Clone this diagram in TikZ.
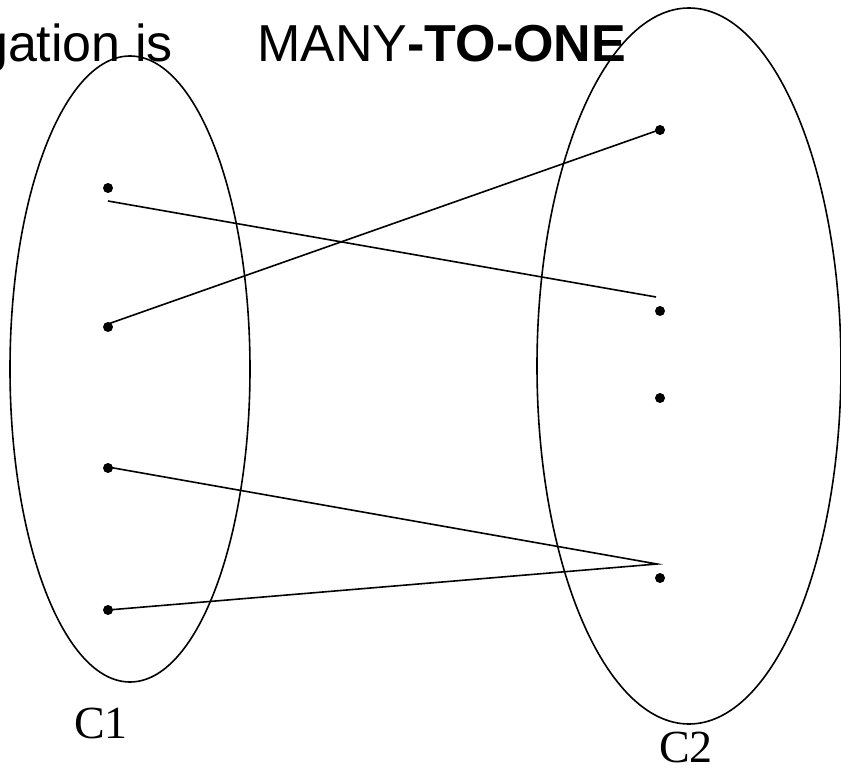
\documentclass[tikz,border=0pt]{standalone}
\usepackage{fontspec}
\setmainfont{Liberation Serif}
\newfontfamily\arialf{Liberation Sans}
\begin{document}
\begin{tikzpicture}[x=1pt,y=-1pt,
  setline/.style={line width=1.6pt},
  link/.style={line width=1.6pt},
  pt/.style={circle,fill=black,inner sep=0pt,minimum size=10pt},
  ttl/.style={font=\arialf\fontsize{52}{60}\selectfont,inner sep=0pt},
  lbl/.style={font=\fontsize{46}{54}\selectfont,inner sep=0pt}]
\useasboundingbox (0,0) rectangle (841,773);
\begin{scope}
\clip (0,0) rectangle (841,773);
\node[ttl,anchor=base east] (t1) at (173,62) {gation is};
\node[ttl,anchor=base west] (t2) at (257,62) {MANY\textbf{-TO-ONE}};
% ellipses
\draw[setline] (130,369) ellipse [x radius=120,y radius=313];
\draw[setline] (689,366) ellipse [x radius=152,y radius=358];
\end{scope}
% dots
\node[pt] (a1) at (108,188) {};
\node[pt] (a2) at (108,327) {};
\node[pt] (a3) at (108,468) {};
\node[pt] (a4) at (108,610) {};
\node[pt] (b1) at (660,130) {};
\node[pt] (b2) at (660,311) {};
\node[pt] (b3) at (660,398) {};
\node[pt] (b4) at (660,578) {};
% line endpoints
\coordinate (s1) at (108,201);
\coordinate (e1) at (656,297);
\coordinate (s2) at (108,324);
\coordinate (e2) at (656,131);
\coordinate (s3) at (108,467);
\coordinate (e3) at (657,564);
\coordinate (s4) at (108,610);
\draw[link] (s1) -- (e1);
\draw[link] (s2) -- (e2);
\draw[link] (s3) -- (e3) -- (s4);
% small gap in right ellipse
\draw[white,line width=3pt] (635,655) -- (639,661);
\node[lbl,anchor=base] (c1) at (101,738) {C1};
\node[lbl,anchor=base] (c2) at (686,762) {C2};
\end{tikzpicture}
\end{document}
